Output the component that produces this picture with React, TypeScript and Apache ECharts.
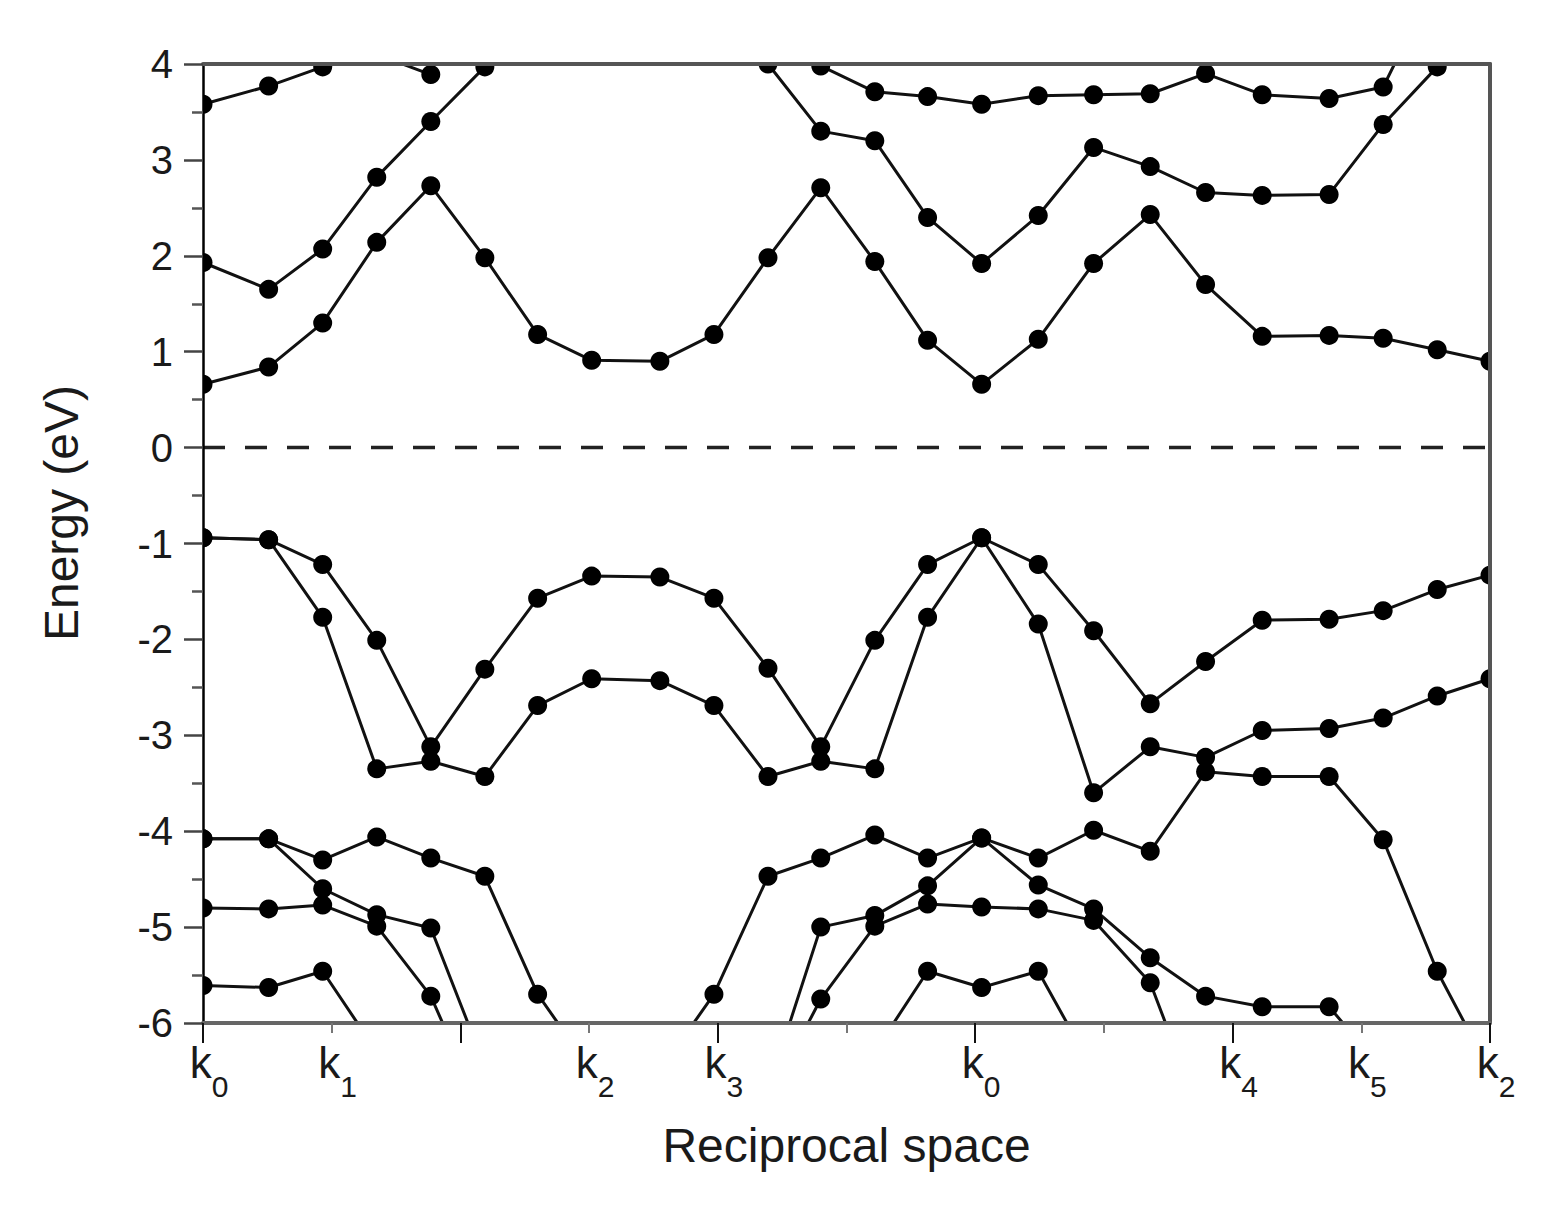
import React, { useEffect, useRef } from "react";
import * as echarts from "echarts";

// k-path positions of the computed points (in tick units, k0 = 0 ... k2 = 10)
const kPath = [0, 0.51, 0.93, 1.35, 1.77, 2.19, 2.6, 3.02, 3.55, 3.97, 4.39, 4.8, 5.22, 5.63, 6.05, 6.49, 6.92, 7.36, 7.79, 8.23, 8.75, 9.17, 9.59, 10];

// tick labels (one per integer tick)
const xTickLabels = ["k0", "k1", "", "k2", "k3", "", "k0", "", "k4", "k5", "k2"];
const yTicks = [-6, -5, -4, -3, -2, -1, 0, 1, 2, 3, 4];

// conduction bands (eV); values beyond the frame are estimates that are clipped
const bandC3 = [3.58, 3.77, 3.97, 4.1, 3.89, null, null, null, null, null, null, 3.98, 3.71, 3.66, 3.58, 3.67, 3.68, 3.69, 3.9, 3.68, 3.64, 3.76, 4.9, null];
const bandC2 = [1.93, 1.65, 2.07, 2.82, 3.4, 3.97, null, null, null, null, 4.0, 3.3, 3.2, 2.4, 1.92, 2.42, 3.13, 2.93, 2.66, 2.63, 2.64, 3.37, 3.97, null];
const bandC1 = [0.66, 0.84, 1.3, 2.14, 2.73, 1.98, 1.18, 0.91, 0.9, 1.18, 1.98, 2.71, 1.94, 1.12, 0.66, 1.13, 1.92, 2.43, 1.7, 1.16, 1.17, 1.14, 1.02, 0.9];

// valence bands (eV)
const bandV1 = [-0.94, -0.96, -1.22, -2.01, -3.12, -2.31, -1.57, -1.34, -1.35, -1.57, -2.3, -3.12, -2.01, -1.22, -0.94, -1.22, -1.91, -2.67, -2.23, -1.8, -1.79, -1.7, -1.48, -1.33];
const bandV2 = [-0.94, -0.96, -1.77, -3.35, -3.27, -3.43, -2.69, -2.41, -2.43, -2.69, -3.43, -3.27, -3.35, -1.77, -0.94, -1.84, -3.6, -3.12, -3.23, -2.95, -2.93, -2.82, -2.59, -2.41];
const bandL1 = [-4.08, -4.08, -4.3, -4.06, -4.28, -4.47, -5.7, -6.5, -6.5, -5.7, -4.47, -4.28, -4.04, -4.28, -4.07, -4.28, -3.99, -4.21, -3.38, -3.43, -3.43, -4.09, -5.46, -6.5];
const bandL2 = [-4.08, -4.08, -4.6, -4.87, -5.01, -6.45, null, null, null, null, -6.7, -5.0, -4.88, -4.57, -4.07, -4.56, -4.81, -5.32, -5.72, -5.83, -5.83, -6.5, null, null];
const bandL3 = [-4.8, -4.81, -4.77, -4.99, -5.72, -7.0, null, null, null, null, -6.8, -5.75, -4.99, -4.76, -4.79, -4.81, -4.93, -5.58, -7.1, null, null, null, null, null];
const bandL4 = [-5.61, -5.63, -5.46, -6.3, null, null, null, null, null, null, null, null, -6.3, -5.46, -5.63, -5.46, -6.5, null, null, null, null, null, null, null];

const fermiLevel = [[0, 0], [10, 0]];

const bands = [
  { name: "CB3", values: bandC3 },
  { name: "CB2", values: bandC2 },
  { name: "CB1", values: bandC1 },
  { name: "VB1", values: bandV1 },
  { name: "VB2", values: bandV2 },
  { name: "VB3", values: bandL1 },
  { name: "VB4", values: bandL2 },
  { name: "VB5", values: bandL3 },
  { name: "VB6", values: bandL4 },
];

const W = 1553;
const H = 1208;
const G_LEFT = 203;
const G_TOP = 64;
const G_W = 1287;
const G_H = 959;
const FONT = '"Liberation Sans", Arial, Helvetica, sans-serif';

export default function App() {
  const ref = useRef<HTMLDivElement>(null);

  useEffect(() => {
    if (!ref.current) return;
    const chart = echarts.init(ref.current, undefined, { renderer: "svg" });

    const bandSeries = bands.map((b) => ({
      type: "line",
      name: b.name,
      data: kPath.map((x, i) => [x, b.values[i]]),
      symbol: "circle",
      symbolSize: 19,
      showSymbol: true,
      clip: true,
      connectNulls: false,
      z: 2,
      itemStyle: { color: "#000" },
      lineStyle: { color: "#111", width: 3 },
      emphasis: { disabled: true },
    }));

    const option: any = {
      animation: false,
      backgroundColor: "#fff",
      grid: {
        left: G_LEFT,
        top: G_TOP,
        width: G_W,
        height: G_H,
        containLabel: false,
        outerBoundsMode: "none",
        show: false,
      },
      xAxis: [
        {
          type: "value",
          position: "bottom",
          min: 0,
          max: 10,
          interval: 1,
          z: 10,
          axisLine: { show: true, onZero: false, lineStyle: { color: "#666", width: 4 } },
          axisTick: { show: true, inside: false, length: 10, lineStyle: { color: "#777", width: 2 } },
          splitLine: { show: false },
          axisLabel: {
            show: true,
            margin: 14,
            showMinLabel: true,
            showMaxLabel: true,
            formatter: (v: number) => {
              const s = xTickLabels[Math.round(v)];
              if (!s) return "";
              return `{k|${s[0]}}{s|${s.slice(1)}}`;
            },
            rich: {
              k: { fontSize: 44, fontFamily: FONT, color: "#1a1a1a", lineHeight: 50, padding: [0, 0, 0, 12] },
              s: { fontSize: 30, fontFamily: FONT, color: "#1a1a1a", lineHeight: 30, padding: [48, 0, 0, 0] },
            },
          },
        },
        {
          type: "value",
          position: "bottom",
          min: 0,
          max: 10,
          interval: 2,
          z: 10,
          axisLine: { show: false, onZero: false },
          axisTick: { show: true, inside: false, length: 20, lineStyle: { color: "#111", width: 2 } },
          axisLabel: { show: false },
          splitLine: { show: false },
        },
        {
          type: "value",
          position: "top",
          min: 0,
          max: 10,
          z: 10,
          axisLine: { show: true, onZero: false, lineStyle: { color: "#555", width: 4 } },
          axisTick: { show: false },
          axisLabel: { show: false },
          splitLine: { show: false },
        },
      ],
      yAxis: [
        {
          type: "value",
          position: "left",
          min: yTicks[0],
          max: yTicks[yTicks.length - 1],
          interval: 1,
          z: 10,
          axisLine: { show: true, onZero: false, lineStyle: { color: "#000", width: 2.5 } },
          axisTick: { show: true, inside: false, length: 19, lineStyle: { color: "#444", width: 2.5 } },
          minorTick: { show: true, splitNumber: 2, length: 11, lineStyle: { color: "#555", width: 2.5 } },
          splitLine: { show: false },
          axisLabel: {
            show: true,
            margin: 30,
            fontSize: 40,
            fontFamily: FONT,
            color: "#1a1a1a",
          },
        },
        {
          type: "value",
          position: "right",
          min: yTicks[0],
          max: yTicks[yTicks.length - 1],
          z: 10,
          axisLine: { show: true, onZero: false, lineStyle: { color: "#555", width: 4 } },
          axisTick: { show: false },
          axisLabel: { show: false },
          splitLine: { show: false },
        },
      ],
      graphic: [
        { type: "rect", z: 5, silent: true, shape: { x: 0, y: 0, width: W, height: G_TOP }, style: { fill: "#fff" } },
        { type: "rect", z: 5, silent: true, shape: { x: 0, y: G_TOP + G_H, width: W, height: H - G_TOP - G_H }, style: { fill: "#fff" } },
        { type: "rect", z: 5, silent: true, shape: { x: 0, y: 0, width: G_LEFT, height: H }, style: { fill: "#fff" } },
        { type: "rect", z: 5, silent: true, shape: { x: G_LEFT + G_W, y: 0, width: W - G_LEFT - G_W, height: H }, style: { fill: "#fff" } },
        {
          type: "text",
          z: 20,
          x: G_LEFT + G_W / 2,
          y: 1145,
          style: { text: "Reciprocal space", fontSize: 48, fontFamily: FONT, fill: "#1a1a1a", align: "center", verticalAlign: "middle" },
        },
        {
          type: "text",
          z: 20,
          x: 61,
          y: 513,
          rotation: Math.PI / 2,
          style: { text: "Energy (eV)", fontSize: 48, fontFamily: FONT, fill: "#1a1a1a", align: "center", verticalAlign: "middle" },
        },
      ],
      series: [
        {
          type: "line",
          name: "Fermi level",
          data: fermiLevel,
          symbol: "none",
          clip: true,
          z: 1,
          lineStyle: { color: "#222", width: 3.5, type: [22, 20] },
          emphasis: { disabled: true },
        },
        ...bandSeries,
      ],
    };

    chart.setOption(option);
    return () => chart.dispose();
  }, []);

  return (
    <div
      ref={ref}
      style={{ position: "fixed", left: 0, top: 0, width: W, height: H, background: "#fff" }}
    />
  );
}
